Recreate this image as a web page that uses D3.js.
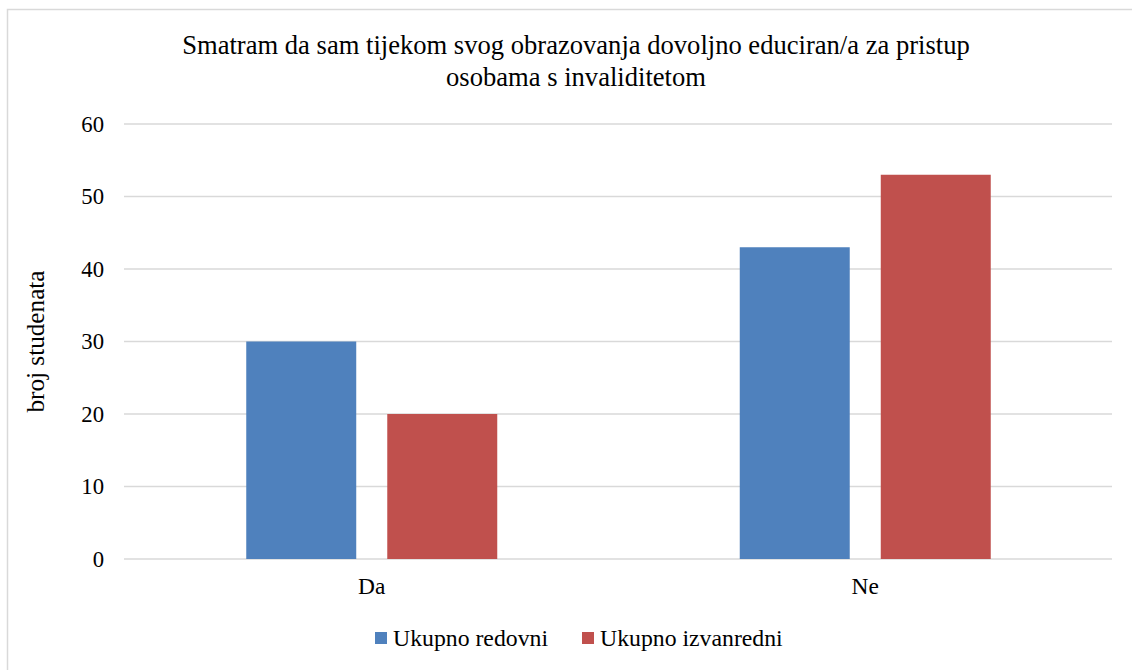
<!DOCTYPE html>
<html><head><meta charset="utf-8">
<script src="https://cdn.jsdelivr.net/npm/d3@7"></script>
<style>body{margin:0;background:#fff}svg{display:block}</style>
</head><body>
<svg id="c" width="1132" height="670"></svg>
<script>
const categories = ["Da", "Ne"];
const seriesNames = ["Ukupno redovni", "Ukupno izvanredni"];
const redovni = [30, 43];
const izvanredni = [20, 53];
const yTicks = [0, 10, 20, 30, 40, 50, 60];
const colors = ["#4f81bd", "#c0504d"];
const titleLines = ["Smatram da sam tijekom svog obrazovanja dovoljno educiran/a za pristup", "osobama s invaliditetom"];
const yTitle = "broj studenata";

(function(){
const FF = "'Liberation Serif', 'Times New Roman', serif";
const svg = d3.select("#c");
svg.append("rect").attr("x",7.5).attr("y",9.5).attr("width",1140).attr("height",680)
  .attr("fill","#fff").attr("stroke","#d9d9d9").attr("stroke-width",1.5);

function fit(sel, target){
  sel.attr("font-size","20px");
  const w = sel.node().getComputedTextLength();
  sel.attr("font-size", (20*target/w).toFixed(2)+"px");
}

const pLeft=125,pRight=1112,pTop=124,pBottom=559;
const y = d3.scaleLinear().domain([0,60]).range([pBottom,pTop]);
const x0 = d3.scaleBand().domain(categories).range([pLeft,pRight]);
const groupW = 251;
const x1 = d3.scaleBand().domain(seriesNames).range([0,groupW]).paddingInner(0.22);

svg.append("g").selectAll("line").data(yTicks).join("line")
  .attr("x1",pLeft-1).attr("x2",pRight).attr("y1",d=>y(d)).attr("y2",d=>y(d))
  .attr("stroke","#d9d9d9").attr("stroke-width",1.5);

const ya = svg.append("g").attr("transform",`translate(${pLeft},0)`)
  .call(d3.axisLeft(y).tickValues(yTicks).tickSize(0).tickPadding(21));
ya.attr("font-family",null).attr("font-size",null);
ya.select(".domain").remove();
const yt = ya.selectAll("text").attr("font-family",FF).attr("fill","#000");
fit(ya.selectAll("text").filter(d=>d===60), 22.7);
yt.attr("font-size", ya.selectAll("text").filter(d=>d===60).attr("font-size"));

const data = categories.map((c,i)=>({c, vals:[redovni[i], izvanredni[i]]}));
const g = svg.append("g").selectAll("g").data(data).join("g")
  .attr("transform",d=>`translate(${x0(d.c)+(x0.bandwidth()-groupW)/2},0)`);
g.selectAll("rect").data(d=>d.vals.map((v,j)=>({v,s:seriesNames[j],j}))).join("rect")
  .attr("x",d=>x1(d.s)).attr("width",x1.bandwidth())
  .attr("y",d=>y(d.v)).attr("height",d=>y(0)-y(d.v))
  .attr("fill",d=>colors[d.j]);

const xa = svg.append("g").attr("transform",`translate(0,${pBottom})`)
  .call(d3.axisBottom(x0).tickSize(0));
xa.attr("font-family",null).attr("font-size",null);
xa.select(".domain").remove();
const xt = xa.selectAll("text").attr("font-family",FF).attr("fill","#000").attr("y",35).attr("dy",null);
fit(xa.selectAll("text").filter(d=>d==="Ne"), 27.3);
xt.attr("font-size", xa.selectAll("text").filter(d=>d==="Ne").attr("font-size"));

const tt = svg.append("g").selectAll("text").data(titleLines).join("text")
  .attr("x",576).attr("y",(d,i)=>54+i*32).attr("text-anchor","middle")
  .attr("font-family",FF).text(d=>d);
fit(tt.filter((d,i)=>i===0), 788);
tt.attr("font-size", tt.filter((d,i)=>i===0).attr("font-size"));

const ytl = svg.append("text").attr("transform",`translate(44,${(pTop+pBottom)/2}) rotate(-90)`)
  .attr("text-anchor","middle").attr("font-family",FF).text(yTitle);
fit(ytl, 142);

const legX = [375, 582];
const lg = svg.append("g").selectAll("g").data(seriesNames).join("g")
  .attr("transform",(d,i)=>`translate(${legX[i]},0)`);
lg.append("rect").attr("x",0).attr("y",632).attr("width",12).attr("height",12).attr("fill",(d,i)=>colors[i]);
const lt = lg.append("text").attr("x",18).attr("y",646).attr("font-family",FF).text(d=>d);
fit(lt.filter((d,i)=>i===0), 155);
lt.attr("font-size", lt.filter((d,i)=>i===0).attr("font-size"));
})();
</script>
</body></html>
